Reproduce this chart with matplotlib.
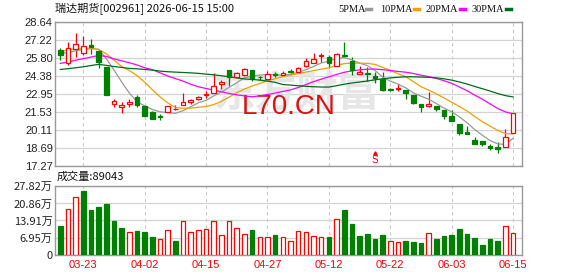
import numpy as np
import pandas as pd
import matplotlib
matplotlib.use('Agg')
import matplotlib.pyplot as plt
from matplotlib.lines import Line2D
from matplotlib.patches import Rectangle
import matplotlib.transforms as mtransforms

CJK = ['Noto Sans CJK SC', 'DejaVu Sans']
plt.rcParams['font.family'] = ['Liberation Sans', 'DejaVu Sans']

title = '瑞达期货[002961] 2026-06-15 15:00'

dates = ['03-18', '03-19', '03-20', '03-23', '03-24', '03-25', '03-26', '03-27', '03-30', '03-31',
         '04-01', '04-02', '04-03', '04-07', '04-08', '04-09', '04-10', '04-13', '04-14', '04-15',
         '04-16', '04-17', '04-20', '04-21', '04-22', '04-23', '04-24', '04-27', '04-28', '04-29',
         '04-30', '05-06', '05-07', '05-08', '05-11', '05-12', '05-13', '05-14', '05-15', '05-18',
         '05-19', '05-20', '05-21', '05-22', '05-25', '05-26', '05-27', '05-28', '05-29', '06-01',
         '06-02', '06-03', '06-04', '06-05', '06-08', '06-09', '06-10', '06-11', '06-12', '06-15']

opens = [26.37, 25.40, 26.45, 26.14, 26.79, 26.32, 25.03, 22.11, 21.87, 22.11,
         22.66, 21.97, 21.50, 21.16, 21.50, 21.71, 22.05, 22.32, 22.53, 22.82,
         22.98, 23.71, 24.80, 24.29, 24.42, 24.82, 24.28, 24.13, 24.52, 24.40,
         24.71, 24.63, 25.14, 25.40, 25.90, 25.87, 25.16, 26.03, 25.56, 24.50,
         24.61, 24.35, 24.08, 23.32, 23.34, 23.24, 22.87, 22.13, 21.95, 21.97,
         21.66, 21.18, 20.60, 19.95, 19.29, 19.21, 18.81, 18.76, 18.76, 19.89]
highs = [26.53, 27.01, 27.72, 27.51, 27.24, 26.45, 25.03, 22.53, 22.29, 22.50,
         22.82, 21.97, 21.60, 21.34, 22.00, 22.03, 23.03, 22.55, 22.77, 23.19,
         24.56, 24.03, 24.80, 24.69, 24.95, 24.82, 24.37, 24.74, 24.63, 24.77,
         24.90, 25.08, 25.74, 26.14, 26.14, 26.03, 26.14, 27.01, 25.82, 25.16,
         25.08, 24.69, 24.69, 23.40, 23.71, 23.24, 22.87, 22.13, 23.11, 21.97,
         21.66, 21.66, 20.60, 20.39, 19.55, 19.21, 19.02, 19.16, 20.13, 21.45]
lows = [25.61, 25.21, 25.87, 26.00, 26.06, 24.95, 22.87, 21.87, 21.45, 21.87,
        21.92, 21.21, 20.95, 20.87, 21.50, 21.66, 22.03, 22.13, 22.45, 22.61,
        22.98, 23.29, 23.55, 24.24, 24.37, 23.98, 24.03, 24.08, 24.29, 24.35,
        24.50, 24.56, 25.08, 25.40, 25.48, 24.95, 25.14, 25.82, 24.40, 24.50,
        23.92, 23.82, 23.19, 23.13, 23.16, 22.55, 22.13, 21.53, 21.92, 21.61,
        20.97, 20.79, 19.66, 19.76, 18.97, 18.81, 18.50, 18.29, 18.71, 19.89]
closes = [26.03, 26.53, 26.85, 26.74, 26.66, 25.48, 22.87, 22.34, 22.03, 22.29,
          22.08, 21.21, 20.95, 21.10, 22.00, 21.76, 22.29, 22.45, 22.71, 22.92,
          23.56, 23.84, 24.25, 24.56, 24.87, 24.22, 24.24, 24.48, 24.45, 24.61,
          24.66, 25.00, 25.56, 25.69, 25.98, 25.40, 26.06, 25.90, 24.82, 24.63,
          24.48, 24.16, 23.24, 23.27, 23.42, 23.03, 22.19, 21.87, 22.11, 21.71,
          21.18, 20.79, 19.87, 19.79, 19.00, 18.95, 18.68, 18.58, 19.50, 21.45]
# volume in 万
volumes = [11.66, 18.4, 23.3, 25.9, 18.2, 19.4, 20.6, 13.7, 10.8, 9.1,
           9.6, 9.2, 7.2, 6.2, 9.9, 5.6, 13.6, 9.1, 9.9, 10.3,
           13.6, 7.9, 13.6, 10.7, 8.3, 10.0, 7.1, 7.1, 8.0, 7.1,
           5.4, 9.5, 9.1, 7.5, 7.1, 7.2, 14.4, 18.2, 12.5, 7.6,
           8.4, 6.4, 8.0, 5.4, 5.0, 5.6, 5.2, 4.7, 8.7, 6.4,
           7.6, 8.0, 10.4, 8.4, 6.8, 3.9, 6.4, 5.6, 11.7, 8.9043]
last_volume = 89043

# moving average values before the visible window fills
ma_heads = {
    5: [26.15, 26.2, 26.35, 26.45],
    10: [26.27, 26.42, 26.48, 26.5, 26.5, 26.45, 26.1, 25.6, 25.1],
    20: [25.35, 25.45, 25.6, 25.72, 25.85, 25.97, 25.9, 25.7, 25.55, 25.4,
         25.22, 25.0, 24.85, 24.6, 24.35, 24.15, 23.95, 23.7, 23.5],
    30: [24.87, 24.93, 25.0, 25.08, 25.18, 25.27, 25.19, 25.1, 25.03, 24.95,
         24.92, 24.87, 24.82, 24.74, 24.69, 24.66, 24.63, 24.6, 24.56, 24.5,
         24.45, 24.37, 24.3, 24.2, 24.12, 24.08, 24.03, 23.95, 23.85],
}
ma_colors = {5: '#999999', 10: '#f0a000', 20: '#ff00ff', 30: '#006b1f'}

price_ticks = [17.27, 18.69, 20.11, 21.53, 22.95, 24.38, 25.80, 27.22, 28.64]
vol_ticks = [0, 6.95, 13.91, 20.86, 27.82]
signals = {41: 'S'}

RED = '#ff0000'
GREEN = '#008000'
GRID = '#d4d4d4'
FRAME = '#999999'

n = len(closes)
x = np.arange(n)
df = pd.DataFrame({'o': opens, 'h': highs, 'l': lows, 'c': closes, 'v': volumes})

fig = plt.figure(figsize=(5.78, 2.76), dpi=100)
ax = fig.add_axes([0.0960, 0.3996, 0.8071, 0.5218])
axv = fig.add_axes([0.0960, 0.0772, 0.8071, 0.2478])

for a in (ax, axv):
    a.set_xlim(-0.63, n + 0.17)
    for s in a.spines.values():
        s.set_color(FRAME)
        s.set_linewidth(1.0)
    a.tick_params(length=0, labelsize=8, pad=2)
    a.set_xticks([i for i in range(3, n, 8)])
    a.grid(axis='x', color='#c8c8c8', linestyle=(0, (3, 3)), linewidth=0.8)
    a.grid(axis='y', color=GRID, linestyle='-', linewidth=0.9)
    a.set_axisbelow(True)

# price panel
ax.set_ylim(price_ticks[0], price_ticks[-1])
ax.set_yticks(price_ticks)
ax.set_yticklabels(['%.2f' % t for t in price_ticks], color='#222222')
ax.set_xticklabels([])

w = 0.6
for i, r in df.iterrows():
    up = r.c >= r.o
    col = RED if up else GREEN
    ax.plot([i, i], [r.l, r.h], color=col, lw=0.9, zorder=3, solid_capstyle='butt')
    lo, hi = min(r.o, r.c), max(r.o, r.c)
    ax.add_patch(Rectangle((i - w / 2, lo), w, max(hi - lo, 0.02),
                           facecolor='white' if up else GREEN, edgecolor=col,
                           linewidth=0.9, zorder=4))

close_s = pd.Series(closes)
for p, head in ma_heads.items():
    ma = close_s.rolling(p).mean().to_numpy()
    ma[:len(head)] = head
    ax.plot(x, ma, color=ma_colors[p], lw=0.9, zorder=3.5)

# watermarks
ax.text(0.518, 0.50, '东方财富', transform=ax.transAxes, ha='center', va='center',
        fontsize=30, fontweight='bold', color='#e6e6e6', family=CJK, zorder=1)
ax.text(0.4995, 0.405, 'L70.CN', transform=ax.transAxes, ha='center', va='center',
        fontsize=20, color='#e01010', zorder=2)

# sell signal
trans = mtransforms.blended_transform_factory(ax.transData, ax.transAxes)
for i, s in signals.items():
    ax.text(i, 0.005, s, transform=trans, ha='center', va='bottom', fontsize=7,
            color=RED, zorder=5)
    ax.plot([i], [0.088], marker='^', markersize=2.5, color=RED, transform=trans,
            zorder=5, clip_on=False)

# volume panel
axv.set_ylim(vol_ticks[0], vol_ticks[-1])
axv.set_yticks(vol_ticks)
axv.set_yticklabels(['0' if t == 0 else '%.2f万' % t for t in vol_ticks],
                    color='#222222', family=CJK, fontsize=8)
axv.set_xticklabels([dates[i] for i in range(3, n, 8)], color=RED)
axv.tick_params(axis='x', pad=4)

prev = np.r_[opens[0], closes[:-1]]
vol_up = np.array(closes) >= prev
axv.bar(x, volumes, width=w,
        color=['white' if u else GREEN for u in vol_up],
        edgecolor=[RED if u else GREEN for u in vol_up], linewidth=0.9, zorder=3)

# header texts
fig.text(0.095, 0.967, title, ha='left', va='center', fontsize=8, family=CJK, color='#111111')
fig.text(0.0986, 0.3587, '成交量:%d' % last_volume, ha='left', va='center', fontsize=8,
         family=CJK, color='#111111')

legend_x = [338, 380, 426, 472]
for (p, col), lx in zip(ma_colors.items(), legend_x):
    label = '%dPMA' % p
    fig.text(lx / 578, 0.967, label, ha='left', va='center', fontsize=7.5,
             family=['Liberation Serif'], color='#111111')
    mx = lx + 6 * len(label) + 4
    fig.add_artist(Line2D([mx / 578, (mx + 5) / 578], [0.967, 0.967], color=col,
                          lw=2.5, transform=fig.transFigure))

fig.savefig('out.png', dpi=100)
